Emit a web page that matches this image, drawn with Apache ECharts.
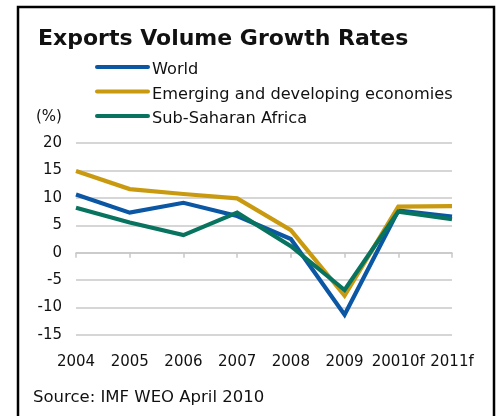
<!DOCTYPE html>
<html>
<head>
<meta charset="utf-8">
<script src="https://cdn.jsdelivr.net/npm/echarts@6/dist/echarts.min.js"></script>
<style>
  html, body { margin: 0; padding: 0; background: #fff; }
  #chart { width: 500px; height: 416px; }
</style>
</head>
<body>
<div id="chart"></div>
<script>
// Export volume growth, annual % change
const years = ['2004', '2005', '2006', '2007', '2008', '2009', '20010f', '2011f'];
const world = [10.6, 7.3, 9.1, 6.7, 2.5, -11.3, 7.7, 6.6];
const emerging = [14.9, 11.6, 10.7, 9.9, 4.1, -7.8, 8.4, 8.5];
const subSaharan = [8.2, 5.5, 3.2, 7.3, 1.2, -6.8, 7.5, 6.1];
const yTicks = { min: -15, max: 20, step: 5 };

const FONT = 'DejaVu Sans';
const colors = { world: '#0b57a4', emerging: '#c99a10', africa: '#08745f' };

const chart = echarts.init(document.getElementById('chart'), null, { renderer: 'canvas' });

const legendRows = [
  { name: 'World', color: colors.world },
  { name: 'Emerging and developing economies', color: colors.emerging },
  { name: 'Sub-Saharan Africa', color: colors.africa }
];

const graphic = [
  // frame around the panel
  { type: 'rect', shape: { x: 18, y: 7, width: 476, height: 420 },
    style: { fill: 'none', stroke: '#000', lineWidth: 2.5 }, silent: true },
  { type: 'text', left: 38, top: 28,
    style: { text: 'Exports Volume Growth Rates', font: 'bold 22px "' + FONT + '"', fill: '#111' } },
  { type: 'text', left: 36, top: 110,
    style: { text: '(%)', font: '15px "' + FONT + '"', fill: '#111' } },
  { type: 'text', left: 33, top: 389,
    style: { text: 'Source: IMF WEO April 2010', font: '16.5px "' + FONT + '"', fill: '#111' } }
];
legendRows.forEach((r, i) => {
  const cy = 67 + i * 24.5;
  graphic.push({ type: 'line', shape: { x1: 97, y1: cy, x2: 148, y2: cy },
    style: { stroke: r.color, lineWidth: 4, lineCap: 'round' } });
  graphic.push({ type: 'text', left: 152, top: cy - 5,
    style: { text: r.name, font: '16.2px "' + FONT + '"', fill: '#111' } });
});

const mkSeries = (name, data, color) => ({
  name, type: 'line', data, xAxisIndex: 0, yAxisIndex: 0,
  symbol: 'none', lineStyle: { width: 4.2, color, join: 'miter' }, itemStyle: { color },
  z: 3
});

chart.setOption({
  animation: false,
  textStyle: { fontFamily: FONT },
  grid: { left: 76, right: 48, top: 143, bottom: 81 },
  xAxis: [
    {
      type: 'category', data: years, boundaryGap: false,
      axisLine: { onZero: true, lineStyle: { color: '#c8c8c8', width: 1.5 } },
      axisTick: { show: true, interval: 0, length: 5, lineStyle: { color: '#c8c8c8', width: 1.5 } },
      axisLabel: { show: false }, splitLine: { show: false }
    },
    {
      type: 'category', data: years, boundaryGap: false, position: 'bottom',
      axisLine: { show: false, onZero: false }, axisTick: { show: false },
      axisLabel: { show: true, interval: 0, color: '#111', fontSize: 15, fontFamily: FONT, margin: 20 },
      splitLine: { show: false }
    }
  ],
  yAxis: {
    type: 'value', min: yTicks.min, max: yTicks.max, interval: yTicks.step,
    axisLine: { show: false }, axisTick: { show: false },
    axisLabel: { color: '#111', fontSize: 15, fontFamily: FONT, margin: 14 },
    splitLine: { lineStyle: { color: '#c8c8c8', width: 1.5 } }
  },
  series: [
    mkSeries('World', world, colors.world),
    mkSeries('Emerging and developing economies', emerging, colors.emerging),
    mkSeries('Sub-Saharan Africa', subSaharan, colors.africa)
  ],
  graphic
});
</script>
</body>
</html>
